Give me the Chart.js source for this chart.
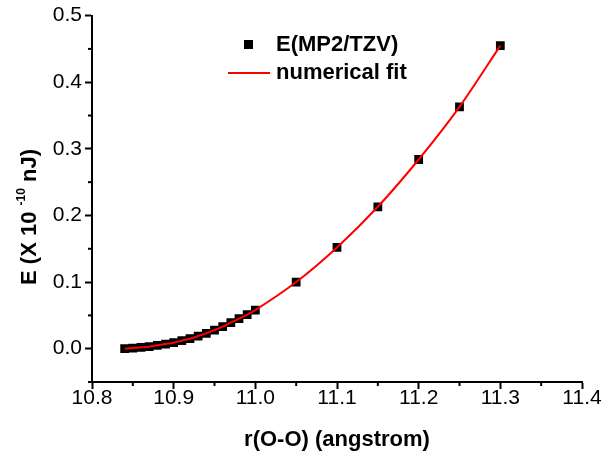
<!DOCTYPE html>
<html>
<head>
<meta charset="utf-8">
<script src="https://cdn.jsdelivr.net/npm/chart.js@4/dist/chart.umd.min.js"></script>
<style>
  html, body { margin: 0; padding: 0; background: #fff; }
  #wrap { width: 609px; height: 459px; position: relative; }
</style>
</head>
<body>
<div id="wrap"><canvas id="chartCanvas"></canvas></div>
<script>
// distances r(O-O) in angstrom
const rValues = [10.84, 10.85, 10.86, 10.87, 10.88, 10.89, 10.90, 10.91, 10.92, 10.93,
                 10.94, 10.95, 10.96, 10.97, 10.98, 10.99, 11.00,
                 11.05, 11.10, 11.15, 11.20, 11.25, 11.30];
// energies (x 10^-10 nJ)
const eValues = [0.000, 0.001, 0.002, 0.003, 0.005, 0.007, 0.009, 0.012, 0.015, 0.019,
                 0.023, 0.028, 0.033, 0.039, 0.045, 0.051, 0.058,
                 0.100, 0.152, 0.213, 0.284, 0.363, 0.455];
const seriesNames = ['E(MP2/TZV)', 'numerical fit'];
const xTicks = [10.8, 10.9, 11.0, 11.1, 11.2, 11.3, 11.4];
const yTicks = [0.0, 0.1, 0.2, 0.3, 0.4, 0.5];

const points = rValues.map((r, i) => ({ x: r, y: eValues[i] }));
const FONT = 'Arial, "Liberation Sans", sans-serif';

// major tick = one of the labelled values
function isMajor(v, list) {
    return list.some(t => Math.abs(t - v) < 1e-6);
}

// draws the short minor ticks, the y title with superscript and the legend
const extras = {
    id: 'extras',
    afterDraw(chart) {
        const ctx = chart.ctx;
        const xs = chart.scales.x, ys = chart.scales.y;
        ctx.save();
        ctx.strokeStyle = '#000';
        ctx.lineWidth = 2;
        xs.ticks.forEach(t => {
            if (!isMajor(t.value, xTicks)) {
                const px = xs.getPixelForValue(t.value);
                ctx.beginPath();
                ctx.moveTo(px, xs.top);
                ctx.lineTo(px, xs.top + 4);
                ctx.stroke();
            }
        });
        ys.ticks.forEach(t => {
            if (!isMajor(t.value, yTicks)) {
                const py = ys.getPixelForValue(t.value);
                ctx.beginPath();
                ctx.moveTo(ys.right, py);
                ctx.lineTo(ys.right - 4, py);
                ctx.stroke();
            }
        });

        // y axis title
        ctx.translate(30, 217);
        ctx.rotate(-Math.PI / 2);
        ctx.fillStyle = '#000';
        ctx.textBaseline = 'middle';
        const big = 'bold 22px ' + FONT, small = 'bold 12px ' + FONT;
        const parts = [['E (X 10 ', big, 0], ['-10', small, -8], [' nJ)', big, 0]];
        let total = 0;
        parts.forEach(p => { ctx.font = p[1]; total += ctx.measureText(p[0]).width; });
        let cx = -total / 2;
        parts.forEach(p => {
            ctx.font = p[1];
            ctx.fillText(p[0], cx, p[2]);
            cx += ctx.measureText(p[0]).width;
        });
        ctx.restore();

        // legend
        ctx.save();
        const ds = chart.data.datasets;
        ctx.font = 'bold 22px ' + FONT;
        ctx.textBaseline = 'middle';
        ctx.fillStyle = '#000';
        ctx.fillRect(244, 40, 9, 9);
        ctx.fillText(ds[1].label, 276, 45);
        ctx.strokeStyle = ds[0].borderColor;
        ctx.lineWidth = 2;
        ctx.beginPath();
        ctx.moveTo(228, 73);
        ctx.lineTo(270, 73);
        ctx.stroke();
        ctx.fillText(ds[0].label, 276, 73);
        ctx.restore();
    }
};

const ctx = document.getElementById('chartCanvas');
window.myChart = new Chart(ctx, {
    type: 'scatter',
    data: {
        datasets: [{
            label: seriesNames[1],
            data: points,
            showLine: true,
            borderColor: '#ff0000',
            borderWidth: 2,
            pointRadius: 0,
            cubicInterpolationMode: 'monotone',
            order: 0
        }, {
            label: seriesNames[0],
            data: points,
            showLine: false,
            pointStyle: 'rect',
            pointRadius: 6.2,
            backgroundColor: '#000',
            borderColor: '#000',
            borderWidth: 0,
            order: 1
        }]
    },
    options: {
        responsive: true,
        maintainAspectRatio: false,
        animation: false,
        layout: { padding: { top: 15, right: 27, left: 0, bottom: 0 } },
        plugins: { legend: { display: false }, tooltip: { enabled: false } },
        scales: {
            x: {
                type: 'linear',
                min: 10.8,
                max: 11.4,
                afterFit: s => { s.height = 77; },
                ticks: {
                    stepSize: 0.05,
                    autoSkip: false,
                    maxRotation: 0,
                    padding: -3,
                    color: '#000',
                    font: { family: FONT, size: 21 },
                    callback: v => isMajor(v, xTicks) ? v.toFixed(1) : ''
                },
                grid: {
                    drawOnChartArea: false,
                    tickLength: 7,
                    tickWidth: 2,
                    tickColor: c => (c.tick && isMajor(c.tick.value, xTicks)) ? '#000' : 'rgba(0,0,0,0)'
                },
                border: { display: true, color: '#000', width: 2 },
                title: {
                    display: true,
                    text: 'r(O-O) (angstrom)',
                    color: '#000',
                    font: { family: FONT, size: 22, weight: 'bold' },
                    padding: { top: 0, bottom: 6 }
                }
            },
            y: {
                type: 'linear',
                min: -0.05,
                max: 0.5,
                afterFit: s => { s.width = 92; },
                ticks: {
                    stepSize: 0.05,
                    autoSkip: false,
                    padding: 3,
                    color: '#000',
                    font: { family: FONT, size: 21 },
                    callback: v => isMajor(v, yTicks) ? v.toFixed(1) : ''
                },
                grid: {
                    drawOnChartArea: false,
                    tickLength: 7,
                    tickWidth: 2,
                    tickColor: c => (c.tick && isMajor(c.tick.value, yTicks)) ? '#000' : 'rgba(0,0,0,0)'
                },
                border: { display: true, color: '#000', width: 2 }
            }
        }
    },
    plugins: [extras]
});
</script>
</body>
</html>
